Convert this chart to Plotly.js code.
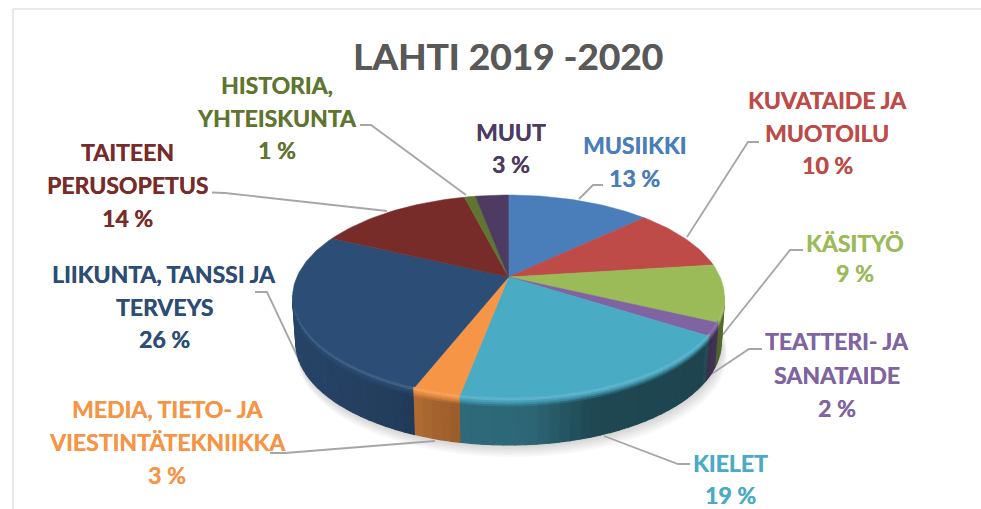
<!DOCTYPE html>
<html><head><meta charset="utf-8">
<script src="https://cdn.plot.ly/plotly-3.0.1.min.js"></script>
<style>html,body{margin:0;padding:0;background:#fff}</style></head>
<body><div id="chart" style="width:981px;height:509px"></div>
<script>
// Data, clockwise from 12 o'clock
const categories = ['MUSIIKKI','KUVATAIDE JA MUOTOILU','KÄSITYÖ','TEATTERI- JA SANATAIDE','KIELET','MEDIA, TIETO- JA VIESTINTÄTEKNIIKKA','LIIKUNTA, TANSSI JA TERVEYS','TAITEEN PERUSOPETUS','HISTORIA, YHTEISKUNTA','MUUT'];
const percents = [13,10,9,2,19,3,26,14,1,3];
const colours = ['#4a7ebb','#be4b48','#9bbb59','#8064a2','#4aabc5','#f69545','#2c4d75','#772c2a','#5f7530','#4d3b62'];
const labelLines = [['MUSIIKKI'],['KUVATAIDE JA','MUOTOILU'],['KÄSITYÖ'],['TEATTERI- JA','SANATAIDE'],['KIELET'],['MEDIA, TIETO- JA','VIESTINTÄTEKNIIKKA'],['LIIKUNTA, TANSSI JA','TERVEYS'],['TAITEEN','PERUSOPETUS'],['HISTORIA,','YHTEISKUNTA'],['MUUT']];
const titleText = 'LAHTI 2019 -2020';

// Label placement: centre x and centre y of first line, plus line step
const labelX = [634,827,855,837,730,167,164,127,277,511];
const labelY = [145,100,242.5,341,463,409,274,152,85,132];
const lineStep = [33,32.5,30.5,33.5,32,33,32.5,33,32.5,32];
// Leader polylines
const leaderX = [[603,593,579],[759,748,687],[803,790,720],[762,749,707],[690,678,604],[270,285,435],[255,267,300],[212,225,387],[360,371,466],[]];
const leaderY = [[185,185,199],[142,142,237],[250,250,338],[349,349,377],[464,464,436],[453,453,441],[292,292,362],[192.5,193,211],[125,125,195],[]];

// Perspective disc geometry
const cx=508.5, cy=277, A=211.6, B=98.4, K=0.2, H=45, BOTTOM_SCALE=0.985;
const rad=d=>d*Math.PI/180;
function rim(deg){const u=Math.sin(rad(deg)),v=Math.cos(rad(deg)),w=1+K*v;return [cx+A*u/w,cy-B*v/w];}
function low(deg,off){const p=rim(deg);const s=1-(1-BOTTOM_SCALE)*off/H;return [cx+(p[0]-cx)*s,p[1]+off];}
function hex(c){return [1,3,5].map(i=>parseInt(c.substr(i,2),16));}
function mix(c,f,toWhite){const r=hex(c);return 'rgb('+r.map(v=>Math.round(toWhite?v+(255-v)*f:v*f)).join(',')+')';}
function wallShade(x){const xs=[292,300,400,430,460,530,590,700,710,726],fs=[.9,.88,.78,.68,.62,.6,.42,.4,.5,.6];
  for(let i=1;i<xs.length;i++) if(x<=xs[i]){const t=(x-xs[i-1])/(xs[i]-xs[i-1]);return fs[i-1]+(fs[i]-fs[i-1])*Math.max(0,t);}
  return fs[fs.length-1];}

const traces=[];
const poly=(x,y,fill,w)=>traces.push({type:'scatter',mode:'lines',x,y,fill:'toself',fillcolor:fill,line:{color:fill,width:w,simplify:false},hoverinfo:'skip',showlegend:false});

// Soft shadow
[12,10,8,6,4,2].forEach(o=>{const x=[],y=[];for(let d=0;d<=360;d+=4){const p=low(d,H);x.push(cx+(p[0]-cx)*(1+o*0.001)+o*0.3);y.push(p[1]+o);}
  traces.push({type:'scatter',mode:'lines',x,y,fill:'toself',fillcolor:'rgba(0,0,0,0.028)',line:{width:0},hoverinfo:'skip',showlegend:false});});

// Leader lines
leaderX.forEach((lx,i)=>{if(lx.length)traces.push({type:'scatter',mode:'lines',x:lx,y:leaderY[i],line:{color:'#a6a6a6',width:1.8},hoverinfo:'skip',showlegend:false});});

// Slice angle ranges from the values
const total=percents.reduce((a,b)=>a+b,0);let acc=0;
const spans=percents.map(p=>{const s=[acc/total*360,(acc+p)/total*360];acc+=p;return s;});

// Side wall first, whole height
const T0=101.5,T1=258.5,STRIP=2.5;
const strips=[];
spans.forEach((s,i)=>{const a=Math.max(s[0],T0),b=Math.min(s[1],T1);if(b<=a)return;
  const n=Math.max(1,Math.ceil((b-a)/STRIP));
  for(let j=0;j<n;j++) strips.push({i,d0:a+(b-a)*j/n,d1:a+(b-a)*(j+1)/n});});
const band=(st,o0,o1,col,w)=>{const p=low(st.d0,o0),q=low(st.d1,o0),r=low(st.d1,o1),t=low(st.d0,o1);poly([p[0],q[0],r[0],t[0],p[0]],[p[1],q[1],r[1],t[1],p[1]],col,w);};
strips.forEach(st=>band(st,4,H,mix(colours[st.i],wallShade(low((st.d0+st.d1)/2,H)[0])),1.2));

// Top faces
spans.forEach((s,i)=>{const x=[cx],y=[cy];const n=Math.max(2,Math.ceil((s[1]-s[0])/1.5));
  for(let j=0;j<=n;j++){const p=rim(s[0]+(s[1]-s[0])*j/n);x.push(p[0]);y.push(p[1]);}
  x.push(cx);y.push(cy);
  traces.push({type:'scatter',mode:'lines',x,y,fill:'toself',fillcolor:colours[i],line:{color:colours[i],width:0.5},name:categories[i],text:percents[i]+' %',hoverinfo:'name+text',showlegend:false});});

// Rim bevel, darkening from the top face into the wall
strips.forEach(st=>{const f=wallShade(low((st.d0+st.d1)/2,H)[0]),c=colours[st.i];
  band(st,4,6,mix(c,f+(1-f)*0.25),1);
  band(st,2,4,mix(c,f+(1-f)*0.6),1);
  band(st,0,2,mix(c,0.95),1);
  band(st,-2,0,mix(c,0.1,true),1);});

// Text
const annotations=[];
percents.forEach((p,i)=>{const lines=labelLines[i].concat([p+' %']);
  lines.forEach((t,k)=>annotations.push({x:labelX[i],y:labelY[i]+k*lineStep[i],xref:'x',yref:'y',text:t,showarrow:false,xanchor:'center',yanchor:'middle',font:{family:'Lato',size:23,color:colours[i],weight:700,shadow:'0.3px 0 0 '+colours[i]}}));});

const layout={width:981,height:509,margin:{l:0,r:0,t:0,b:0},paper_bgcolor:'#fff',plot_bgcolor:'#fff',showlegend:false,
  title:{text:titleText,x:508/981,y:1-57/509,xanchor:'center',yanchor:'middle',font:{family:'Lato',size:37,color:'#595959',weight:700,shadow:'0.4px 0 0 #595959'}},
  xaxis:{range:[0,981],visible:false,fixedrange:true},yaxis:{range:[509,0],visible:false,fixedrange:true},
  shapes:[{type:'line',xref:'x',yref:'y',x0:13,y0:9,x1:981,y1:9,line:{color:'#e0e0e0',width:1.5}},{type:'line',xref:'x',yref:'y',x0:13,y0:9,x1:13,y1:509,line:{color:'#e0e0e0',width:1.5}}],
  annotations};
Plotly.newPlot('chart',traces,layout,{displayModeBar:false});
</script></body></html>
